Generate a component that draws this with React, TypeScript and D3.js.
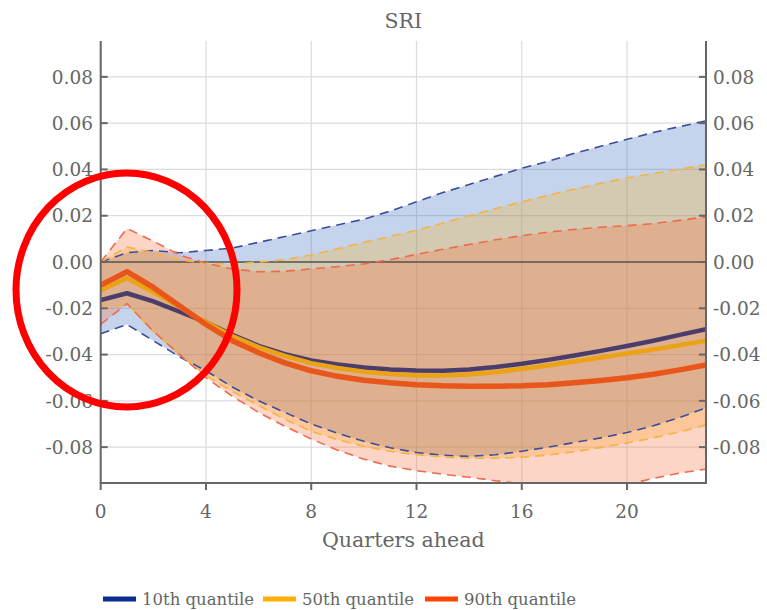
import React from 'react';
import * as d3 from 'd3';

// quarters ahead 0..23
const quarters = d3.range(0, 24);
const xTicks = [0, 4, 8, 12, 16, 20];
const yTicks = [-0.08, -0.06, -0.04, -0.02, 0, 0.02, 0.04, 0.06, 0.08];

// 10th quantile
const q10Mid = [-0.0165, -0.0135, -0.017, -0.0215, -0.026, -0.0315, -0.0362, -0.0398, -0.0425, -0.0443, -0.0456, -0.0465, -0.0469, -0.047, -0.0465, -0.0454, -0.044, -0.0423, -0.0404, -0.0384, -0.0363, -0.034, -0.0315, -0.029];
const q10Hi = [0.0, 0.004, 0.005, 0.004, 0.005, 0.006, 0.0085, 0.011, 0.0135, 0.016, 0.0185, 0.022, 0.026, 0.030, 0.0335, 0.037, 0.0405, 0.0435, 0.047, 0.050, 0.053, 0.056, 0.0585, 0.061];
const q10Lo = [-0.031, -0.027, -0.034, -0.041, -0.047, -0.054, -0.060, -0.065, -0.070, -0.074, -0.0775, -0.0803, -0.0823, -0.0835, -0.084, -0.0833, -0.0818, -0.080, -0.078, -0.076, -0.0737, -0.0708, -0.0672, -0.063];

// 50th quantile
const q50Mid = [-0.0122, -0.007, -0.013, -0.0195, -0.026, -0.032, -0.0368, -0.0406, -0.0437, -0.0458, -0.0474, -0.0484, -0.049, -0.049, -0.0486, -0.0476, -0.0462, -0.0447, -0.043, -0.0413, -0.0395, -0.0378, -0.036, -0.034];
const q50Hi = [0.0, 0.0065, 0.004, 0.001, -0.0005, -0.001, 0.0, 0.001, 0.003, 0.0057, 0.0085, 0.011, 0.0137, 0.0168, 0.020, 0.023, 0.026, 0.0288, 0.0315, 0.034, 0.0363, 0.0383, 0.0402, 0.042];
const q50Lo = [-0.020, -0.018, -0.030, -0.040, -0.049, -0.056, -0.062, -0.068, -0.0732, -0.0768, -0.0797, -0.0818, -0.0833, -0.0843, -0.0848, -0.0848, -0.0844, -0.0834, -0.082, -0.0802, -0.0782, -0.076, -0.0734, -0.0705];

// 90th quantile
const q90Mid = [-0.010, -0.0042, -0.011, -0.019, -0.027, -0.034, -0.0392, -0.0436, -0.047, -0.0494, -0.0511, -0.0522, -0.053, -0.0535, -0.0537, -0.0537, -0.0535, -0.053, -0.0522, -0.0512, -0.050, -0.0485, -0.0466, -0.0445];
const q90Hi = [0.0, 0.0145, 0.009, 0.003, -0.0005, -0.003, -0.0042, -0.004, -0.003, -0.002, -0.0008, 0.001, 0.0033, 0.0055, 0.0076, 0.0096, 0.0114, 0.0129, 0.0141, 0.015, 0.0157, 0.0166, 0.018, 0.0195];
const q90Lo = [-0.027, -0.018, -0.030, -0.040, -0.050, -0.058, -0.065, -0.071, -0.0765, -0.0813, -0.0852, -0.0882, -0.0902, -0.0917, -0.093, -0.0945, -0.0958, -0.0968, -0.0974, -0.0974, -0.0962, -0.0935, -0.0912, -0.0895];

const series = [
  {name: '10th quantile', mid: q10Mid, hi: q10Hi, lo: q10Lo, fill: 'rgba(65,108,192,0.3)', dash: '#3a4f9c', line: '#4a3d6c', key: '#0b2d8f', w: 4.5},
  {name: '50th quantile', mid: q50Mid, hi: q50Hi, lo: q50Lo, fill: 'rgba(255,176,0,0.25)', dash: '#f2b444', line: '#eba214', key: '#ffb000', w: 4.5},
  {name: '90th quantile', mid: q90Mid, hi: q90Hi, lo: q90Lo, fill: 'rgba(248,115,65,0.3)', dash: '#ee6a50', line: '#e8561a', key: '#ff4500', w: 5.5},
];

const W = 767;
const H = 610;
const left = 100.7;
const right = 706;
const top = 41;
const bottom = 483;
const font = '"DejaVu Serif", serif';
const textCol = '#666';

export default function App() {
  const x = d3.scaleLinear().domain([0, 23]).range([left, right]);
  const y = d3.scaleLinear().domain([-0.0955, 0.0955]).range([bottom, top]);
  const fmt = (v: number) => (v < 0 ? '-' : '') + Math.abs(v).toFixed(2);

  const line = (vals: number[]) =>
    d3
      .line<number>()
      .x((_, i) => x(quarters[i]))
      .y((d) => y(d))(vals) || '';
  const band = (lo: number[], hi: number[]) =>
    d3
      .area<number>()
      .x((_, i) => x(quarters[i]))
      .y0((_, i) => y(lo[i]))
      .y1((_, i) => y(hi[i]))(quarters) || '';

  const legendX = [103, 263, 425];

  return (
    <svg width={W} height={H} style={{position: 'absolute', left: 0, top: 0, background: '#fff'}}>
      <defs>
        <clipPath id="plot">
          <rect x={left} y={top} width={right - left} height={bottom - top} />
        </clipPath>
      </defs>
      {/* grid */}
      {xTicks.map((t) => (
        <line key={'gx' + t} x1={x(t)} x2={x(t)} y1={top} y2={bottom} stroke="#dcdcdc" strokeWidth={1.2} />
      ))}
      {yTicks.map((t) => (
        <line key={'gy' + t} x1={left} x2={right} y1={y(t)} y2={y(t)} stroke="#dcdcdc" strokeWidth={1.2} />
      ))}
      <g clipPath="url(#plot)">
        {series.map((s) => (
          <path key={'b' + s.name} d={band(s.lo, s.hi)} fill={s.fill} />
        ))}
        <line x1={left} x2={right} y1={y(0)} y2={y(0)} stroke="#555" strokeWidth={1.5} />
        {series.map((s) => (
          <g key={'d' + s.name}>
            <path d={line(s.hi)} fill="none" stroke={s.dash} strokeWidth={1.6} strokeDasharray="9,6" />
            <path d={line(s.lo)} fill="none" stroke={s.dash} strokeWidth={1.6} strokeDasharray="9,6" />
          </g>
        ))}
        {series.map((s) => (
          <path key={'m' + s.name} d={line(s.mid)} fill="none" stroke={s.line} strokeWidth={s.w} strokeLinejoin="round" />
        ))}
      </g>
      {/* axes */}
      <line x1={left} x2={left} y1={top} y2={bottom} stroke="#666" strokeWidth={2} />
      <line x1={right} x2={right} y1={top} y2={bottom} stroke="#666" strokeWidth={2} />
      <line x1={left - 1} x2={right + 1} y1={bottom} y2={bottom} stroke="#666" strokeWidth={2} />
      {yTicks.map((t) => (
        <g key={'ty' + t}>
          <line x1={left} x2={left + 7} y1={y(t)} y2={y(t)} stroke="#666" strokeWidth={2} />
          <line x1={right - 7} x2={right} y1={y(t)} y2={y(t)} stroke="#666" strokeWidth={2} />
          <text x={93} y={y(t)} dy="0.36em" textAnchor="end" fontFamily={font} fontSize={18.5} fill={textCol}>
            {fmt(t)}
          </text>
          <text x={713} y={y(t)} dy="0.36em" textAnchor="start" fontFamily={font} fontSize={18.5} fill={textCol}>
            {fmt(t)}
          </text>
        </g>
      ))}
      {xTicks.map((t) => (
        <g key={'tx' + t}>
          <line x1={x(t)} x2={x(t)} y1={bottom} y2={bottom + 7} stroke="#666" strokeWidth={2} />
          <text x={x(t)} y={518} textAnchor="middle" fontFamily={font} fontSize={18.5} fill={textCol}>
            {t}
          </text>
        </g>
      ))}
      <text x={(left + right) / 2} y={28} textAnchor="middle" fontFamily={font} fontSize={20.5} fill={textCol}>
        SRI
      </text>
      <text x={(left + right) / 2} y={547} textAnchor="middle" fontFamily={font} fontSize={20.6} fill={textCol}>
        Quarters ahead
      </text>
      {/* legend */}
      {series.map((s, i) => (
        <g key={'l' + s.name}>
          <line x1={legendX[i]} x2={legendX[i] + 33} y1={599} y2={599} stroke={s.key} strokeWidth={5} />
          <text x={legendX[i] + 39} y={605} fontFamily={font} fontSize={16.5} fill={textCol}>
            {s.name}
          </text>
        </g>
      ))}
      {/* annotation circle */}
      <ellipse cx={126.5} cy={290} rx={110.5} ry={117} fill="none" stroke="#ff0000" strokeWidth={7} />
    </svg>
  );
}
